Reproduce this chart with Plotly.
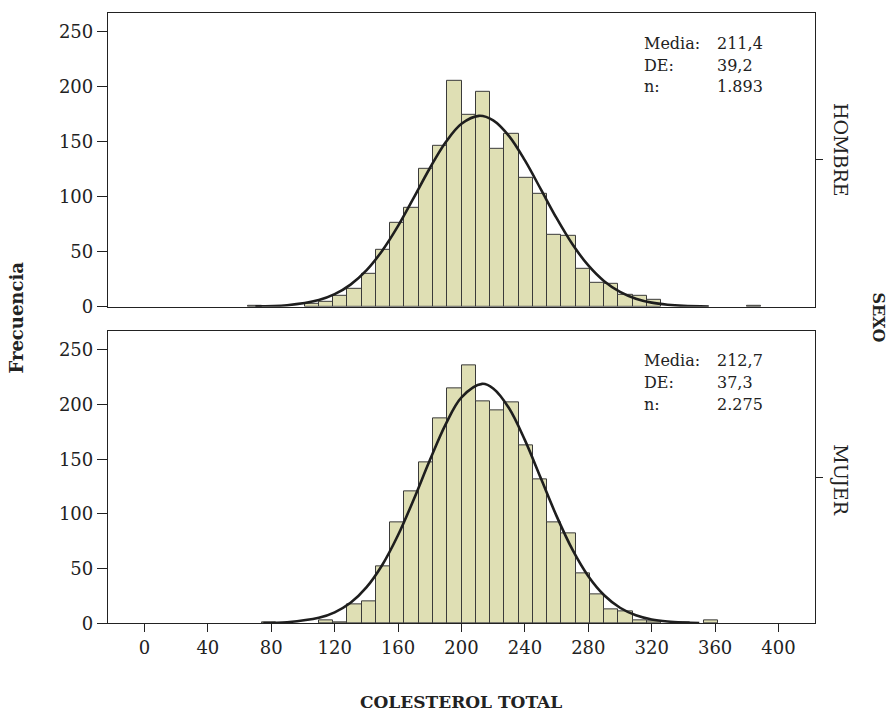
import plotly.graph_objects as go

# ---------------- data ----------------
bin_width = 9
hombre_bin_start = [65, 101, 110, 119, 128, 137, 146, 155, 164, 173, 182, 191, 200, 209,
                    218, 227, 236, 245, 254, 263, 272, 281, 290, 299, 308, 317, 380]
hombre_counts = [1, 3, 4, 10, 16, 30, 52, 76, 90, 125, 146, 205, 174, 195,
                 143, 157, 117, 103, 65, 64, 34, 22, 21, 11, 10, 6, 1]

mujer_bin_start = [74, 110, 119, 128, 137, 146, 155, 164, 173, 182, 191, 200, 209, 218,
                   227, 236, 245, 254, 263, 272, 281, 290, 299, 308, 317, 335, 353]
mujer_counts = [1, 3, 1, 17, 20, 52, 92, 121, 147, 187, 215, 236, 203, 195,
                202, 163, 132, 92, 82, 46, 26, 13, 11, 3, 2, 1, 3]

hombre_curve_x = [70, 90, 110, 120, 130, 140, 150, 160, 170, 180, 190, 200, 211, 220,
                  230, 240, 250, 260, 270, 280, 290, 300, 310, 320, 330, 340, 356]
hombre_curve_y = [0.3, 1.4, 6.1, 11.4, 20.1, 33.0, 50.9, 73.4, 99.3, 125.8, 149.4, 166.2, 173.4, 169.3,
                  155.0, 132.9, 106.8, 80.4, 56.7, 37.5, 23.2, 13.5, 7.3, 3.7, 1.8, 0.8, 0.2]

mujer_curve_x = [75, 90, 110, 120, 130, 140, 150, 160, 170, 180, 190, 200, 213, 220,
                 230, 240, 250, 260, 270, 280, 290, 300, 310, 320, 330, 340, 350]
mujer_curve_y = [0.2, 1.0, 5.0, 10.0, 18.7, 32.8, 53.3, 80.7, 113.7, 149.1, 182.0, 206.7, 219.0, 214.8,
                 196.7, 167.5, 132.8, 98.0, 67.3, 43.0, 25.6, 14.2, 7.3, 3.5, 1.6, 0.7, 0.3]

x_ticks = [0, 40, 80, 120, 160, 200, 240, 280, 320, 360, 400]
y_ticks = [0, 50, 100, 150, 200, 250]

stats_labels = ["Media:", "DE:", "n:"]
hombre_stats = ["211,4", "39,2", "1.893"]
mujer_stats = ["212,7", "37,3", "2.275"]
panel_names = ["HOMBRE", "MUJER"]

# ---------------- style ----------------
FONT = "DejaVu Serif"
BAR_FILL = "#dfdfb4"
BAR_LINE = "#3a3a3a"
CURVE = "#1e1e1e"
W, H = 893, 725
XR = [-23, 423]
YR = [0, 267]

def px_x(p):
    return p / W

def px_y(p):
    return 1 - p / H

fig = go.Figure()

panels = [
    (hombre_bin_start, hombre_counts, hombre_curve_x, hombre_curve_y, "x", "y"),
    (mujer_bin_start, mujer_counts, mujer_curve_x, mujer_curve_y, "x2", "y2"),
]
for starts, counts, cx, cy, xa, ya in panels:
    fig.add_trace(go.Bar(
        x=[s + bin_width / 2 for s in starts], y=counts, width=bin_width,
        marker=dict(color=BAR_FILL, line=dict(color=BAR_LINE, width=1)),
        xaxis=xa, yaxis=ya, showlegend=False, hoverinfo="x+y"))
    fig.add_trace(go.Scatter(
        x=cx, y=cy, mode="lines", line=dict(color=CURVE, width=2.6, shape="spline"),
        xaxis=xa, yaxis=ya, showlegend=False, hoverinfo="skip"))

for ya in ["y3", "y4"]:
    fig.add_trace(go.Scatter(x=[None], y=[None], xaxis="x", yaxis=ya, showlegend=False))

x_dom = [px_x(108), px_x(815)]
top_dom = [px_y(311), px_y(13)]
bot_dom = [px_y(632), px_y(336)]

axis_common = dict(showline=True, linecolor="#222", linewidth=1.3, mirror=True,
                   showgrid=False, zeroline=False, tickfont=dict(family=FONT, size=18, color="#222"),
                   tickcolor="#222")

fig.update_layout(
    width=W, height=H,
    margin=dict(l=0, r=0, t=0, b=0),
    paper_bgcolor="white", plot_bgcolor="white",
    bargap=0,
    font=dict(family=FONT, color="#222"),
    xaxis=dict(domain=x_dom, anchor="y", range=XR, tickvals=x_ticks, showticklabels=False,
               ticks="", **axis_common),
    yaxis=dict(domain=top_dom, anchor="x", range=YR, tickvals=y_ticks, ticks="outside",
               ticklen=10, **axis_common),
    xaxis2=dict(domain=x_dom, anchor="y2", range=XR, tickvals=x_ticks, ticks="outside",
                ticklen=8, **axis_common),
    yaxis2=dict(domain=bot_dom, anchor="x2", range=YR, tickvals=y_ticks, ticks="outside",
                ticklen=10, **axis_common),
    yaxis3=dict(overlaying="y", side="right", anchor="x", range=YR, tickvals=[YR[1] / 2],
                ticktext=[""], ticks="outside", ticklen=7, tickcolor="#222", showline=False,
                showgrid=False, zeroline=False),
    yaxis4=dict(overlaying="y2", side="right", anchor="x2", range=YR, tickvals=[YR[1] / 2],
                ticktext=[""], ticks="outside", ticklen=7, tickcolor="#222", showline=False,
                showgrid=False, zeroline=False),
)

ann = []
stat_font = dict(family=FONT, size=16, color="#222")
for vals, y0 in [(hombre_stats, 44), (mujer_stats, 366)]:
    for i, (lab, v) in enumerate(zip(stats_labels, vals)):
        yy = px_y(y0 + 22 * i)
        ann.append(dict(x=px_x(642), y=yy, xref="paper", yref="paper", text=lab,
                        showarrow=False, xanchor="left", yanchor="middle", font=stat_font))
        ann.append(dict(x=px_x(715), y=yy, xref="paper", yref="paper", text=v,
                        showarrow=False, xanchor="left", yanchor="middle", font=stat_font))

for name, yc in zip(panel_names, [152, 486]):
    ann.append(dict(x=px_x(841), y=px_y(yc), xref="paper", yref="paper", text=name,
                    textangle=90, showarrow=False, xanchor="center", yanchor="middle",
                    font=dict(family=FONT, size=19, color="#222")))

ann.append(dict(x=px_x(878), y=px_y(322), xref="paper", yref="paper", text="<b>SEXO</b>",
                textangle=90, showarrow=False, xanchor="center", yanchor="middle",
                font=dict(family=FONT, size=16, color="#222")))
ann.append(dict(x=px_x(17), y=px_y(322), xref="paper", yref="paper", text="<b>Frecuencia</b>",
                textangle=-90, showarrow=False, xanchor="center", yanchor="middle",
                font=dict(family=FONT, size=18, color="#222")))
ann.append(dict(x=px_x(461), y=px_y(712), xref="paper", yref="paper",
                text="<b>COLESTEROL TOTAL</b>", showarrow=False, xanchor="center",
                yanchor="middle", font=dict(family=FONT, size=17, color="#222")))

fig.update_layout(annotations=ann)

fig.write_html("out.html")
